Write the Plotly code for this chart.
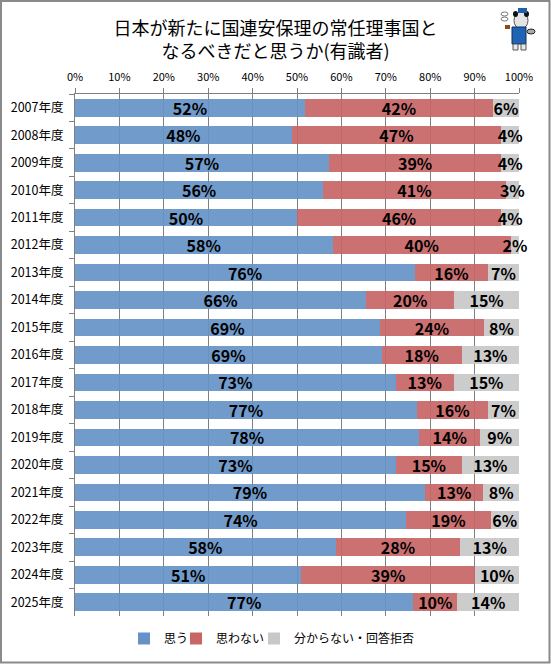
import plotly.graph_objects as go

years = ["2007年度","2008年度","2009年度","2010年度","2011年度","2012年度","2013年度","2014年度","2015年度","2016年度","2017年度","2018年度","2019年度","2020年度","2021年度","2022年度","2023年度","2024年度","2025年度"]
yes = [51.8,48.8,57.2,55.9,50.0,58.0,76.6,65.6,68.7,69.1,72.2,77.0,77.5,72.3,78.8,74.6,58.7,51.0,76.2]
no = [42.3,47.2,38.8,41.1,46.0,40.2,16.4,19.8,23.4,18.0,13.1,16.0,13.8,14.8,13.2,19.0,28.1,39.1,9.9]
unknown = [5.9,4.0,4.0,3.0,4.0,1.8,7.0,14.6,7.9,12.9,14.7,7.0,8.7,12.9,8.0,6.4,13.2,9.9,13.9]
yes_labels = [52,48,57,56,50,58,76,66,69,69,73,77,78,73,79,74,58,51,77]
no_labels = [42,47,39,41,46,40,16,20,24,18,13,16,14,15,13,19,28,39,10]
unknown_labels = [6,4,4,3,4,2,7,15,8,13,15,7,9,13,8,6,13,10,14]
series = [("思う",yes,yes_labels,"#6693C7","legend"),("思わない",no,no_labels,"#C86666","legend2"),("分からない・回答拒否",unknown,unknown_labels,"#C8C8C8","legend3")]
title = "日本が新たに国連安保理の常任理事国と<br>なるべきだと思うか(有識者)"
FONT = "Noto Sans CJK JP"

W, H = 551, 664
L, R, T, B = 75, 32, 94, 48
PW, PH = W-L-R, H-T-B
def px(x, y):
    return (x-L)/PW, 1-(y-T)/PH

fig = go.Figure()
for name, vals, labels, color, lg in series:
    fig.add_trace(go.Bar(y=years, x=vals, name=name, orientation="h", legend=lg,
        marker=dict(color=color, line_width=0, opacity=0.93),
        text=[f"{v}%" for v in labels], textposition="inside", insidetextanchor="middle",
        constraintext="none", cliponaxis=False,
        textfont=dict(family=FONT, size=16, color="#000000", weight="bold"),
        textangle=0))

def legend_at(xpix):
    return dict(orientation="h", x=px(xpix,0)[0], xanchor="left", y=px(0,624)[1], yanchor="top",
                font=dict(family=FONT, size=12), itemwidth=30, bgcolor="rgba(0,0,0,0)")

fig.update_layout(
    width=W, height=H, paper_bgcolor="white", plot_bgcolor="white",
    barmode="stack", bargap=0.355,
    margin=dict(l=L, r=R, t=T, b=B, autoexpand=False),
    font=dict(family=FONT, size=11, color="black"),
    title=dict(text=title, x=0.5, xanchor="center", xref="container", y=0.948, yanchor="top",
               font=dict(family=FONT, size=18, color="black")),
    legend=legend_at(124), legend2=legend_at(176), legend3=legend_at(254),
    showlegend=True,
)
fig.update_xaxes(side="top", range=[0,100.0001], tickmode="array", tickvals=list(range(0,101,10)),
    ticktext=[f"{v}%" for v in range(0,101,10)], ticks="outside", ticklen=5, tickcolor="#808080",
    gridcolor="#808080", gridwidth=1, showline=True, linecolor="#808080", zeroline=False,
    ticklabelstandoff=3, tickfont=dict(family=FONT, size=11))
fig.update_yaxes(autorange="reversed", type="category", ticks="outside", tickson="boundaries", ticklen=5,
    tickcolor="#808080", showline=True, linecolor="#808080", showgrid=False,
    ticklabelstandoff=8, tickfont=dict(family=FONT, size=12.5))

def rect(x0,y0,x1,y1,fill,line=None,kind="rect",layer="above"):
    a,b = px(x0,y0); c,d = px(x1,y1)
    fig.add_shape(type=kind, xref="paper", yref="paper", x0=a, y0=b, x1=c, y1=d, fillcolor=fill,
                  line=dict(color=line or "rgba(0,0,0,0)", width=1 if line else 0), layer=layer)
# outer frame of the picture
rect(1,1,549.5,662.5,"rgba(0,0,0,0)",None,layer="below")
fig.layout.shapes[-1].line = dict(color="#8A8A8A", width=2)
# mascot in the top right corner
rect(501,12,508,16,"#FFFFFF","#777777","circle")          # smoke
rect(501,17,508,21,"#FFFFFF","#777777","circle")
rect(505,25,510,29,"#8B4A20",None)                         # pipe
rect(514,12,528,29,"#E4E4E4","#555555","circle")           # head
rect(513,11,518,17,"#111111",None,"circle")                # ears
rect(524,11,529,17,"#111111",None,"circle")
rect(518,8,527,13,"#1F5FAF",None)                          # cap
rect(516,28,526,32,"#E4E4E4",None,"circle")
rect(512,27,526,44,"#1F63B5","#103060")                    # coat
rect(527,29,535,34,"#AAAAAA","#222222","circle")           # tail
rect(513,44,518,50,"#E8E8E8","#555555")                    # legs
rect(521,44,526,50,"#E8E8E8","#555555")

fig.write_html("out.html", post_script="document.body.style.margin='0';",
               config=dict(displayModeBar=False))
